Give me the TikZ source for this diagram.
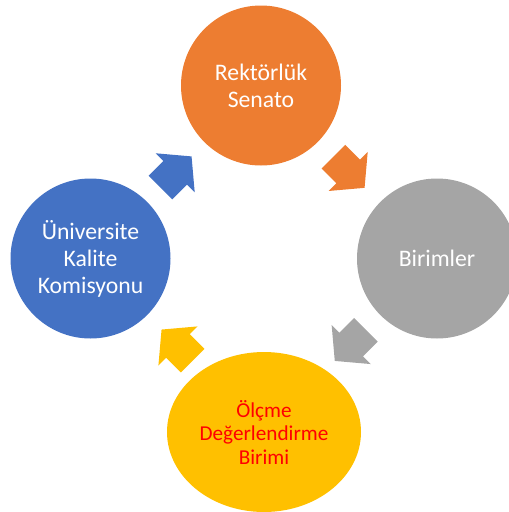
\documentclass[tikz,border=0pt]{standalone}
\usepackage{fontspec}
\setmainfont{Carlito}
\usetikzlibrary{shapes.geometric,shapes.arrows,calc}

\definecolor{rektorange}{HTML}{ED7D31}
\definecolor{birimgray}{HTML}{A5A5A5}
\definecolor{olcmeyellow}{HTML}{FFC000}
\definecolor{kaliteblue}{HTML}{4472C4}
\definecolor{olcmered}{HTML}{FF0000}

\begin{document}
\begin{tikzpicture}[x=1pt, y=-1pt]
    % Define the style for the circles and the arrows
    \tikzset{stage/.style={circle, minimum size=160pt, inner sep=0pt, align=center, text=white, font=\fontsize{23.7}{27}\selectfont}}
    \tikzset{turn/.style={single arrow, minimum height=44pt, inner xsep=0pt, inner ysep=16.5pt, single arrow head extend=11pt, single arrow tip angle=100, anchor=tail}}

    \useasboundingbox (0,0) rectangle (509,512);

    % Place the four stages
    \node[stage, fill=rektorange] (rektor) at (261,85.5) {Rektörlük\\Senato};
    \node[stage, fill=birimgray] (birim) at (437,258.5) {Birimler};
    \node[stage, ellipse, minimum width=194pt, minimum height=160pt, fill=olcmeyellow, text=olcmered, font=\fontsize{21.2}{23.5}\selectfont] (olcme) at (264,432) {Ölçme\\Değerlendirme\\Birimi};
    \node[stage, fill=kaliteblue] (kalite) at (90.5,258.5) {Üniversite\\Kalite\\Komisyonu};

    % Draw the arrows between the stages
    \node[turn, fill=rektorange, rotate=-45] (a1) at ($($(rektor)!0.5!(birim)$)!22pt!(rektor)$) {};
    \node[turn, fill=birimgray, rotate=-135] (a2) at ($($(birim)!0.5!(olcme)$)!22pt!(birim)$) {};
    \node[turn, fill=olcmeyellow, rotate=135] (a3) at ($($(olcme)!0.5!(kalite)$)!22pt!(olcme)$) {};
    \node[turn, fill=kaliteblue, rotate=45] (a4) at ($($(kalite)!0.5!(rektor)$)!22pt!(kalite)$) {};

\end{tikzpicture}
\end{document}
